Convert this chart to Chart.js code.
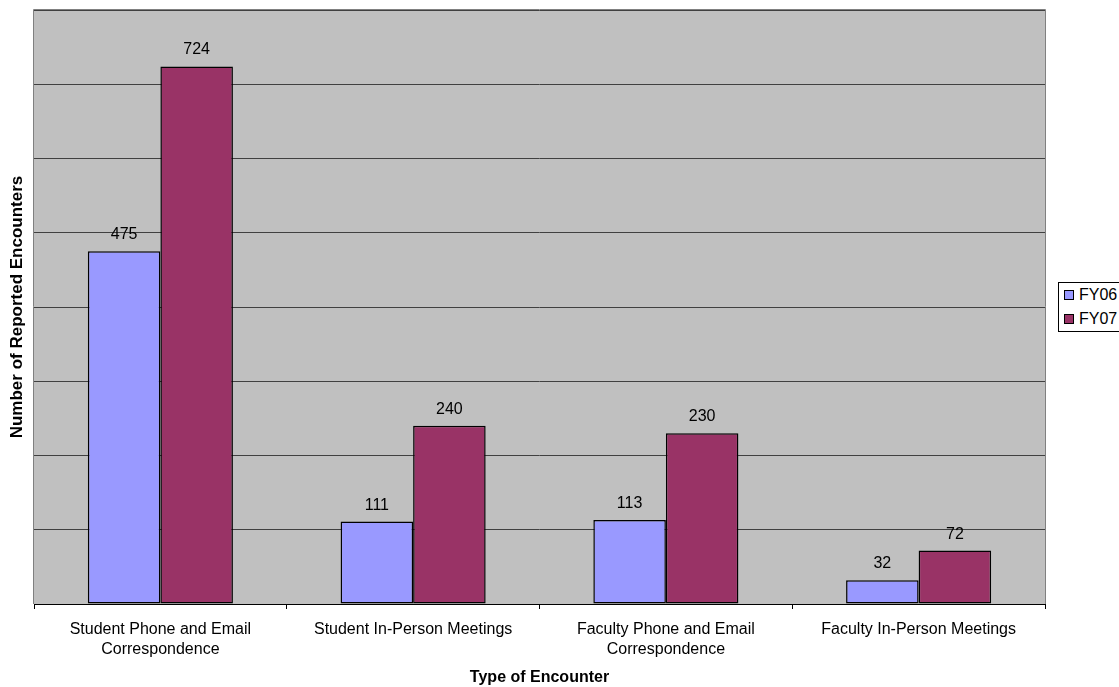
<!DOCTYPE html>
<html>
<head>
<meta charset="utf-8">
<script src="https://cdn.jsdelivr.net/npm/chart.js@4/dist/chart.umd.min.js"></script>
<style>
  body { margin: 0; overflow: hidden; background: #fff; font-family: 'Liberation Sans', Arial, sans-serif; }
  #wrap { position: relative; width: 1119px; height: 687px; }
  #legenda {
    position: absolute; left: 1058px; top: 282px; width: 80px; height: 50px;
    box-sizing: border-box; border: 1px solid #000; background: #fff;
    font-size: 16px; color: #000;
  }
  .item { position: absolute; left: 5px; height: 20px; line-height: 20px; white-space: nowrap; }
  .item span { display: inline-block; width: 8px; height: 8px; border: 1px solid #000; margin-right: 5px; vertical-align: 0px; }
</style>
</head>
<body>
<div id="wrap">
  <canvas id="grafico"></canvas>
  <div id="legenda">
    <div class="item" style="top:2px"><span style="background:#9999FF"></span>FY06</div>
    <div class="item" style="top:26px"><span style="background:#993366"></span>FY07</div>
  </div>
</div>
<script>
const categorias = [
  ['Student Phone and Email', 'Correspondence'],
  'Student In-Person Meetings',
  ['Faculty Phone and Email', 'Correspondence'],
  'Faculty In-Person Meetings'
];
const valoresFY06 = [475, 111, 113, 32];
const valoresFY07 = [724, 240, 230, 72];
const fonte = "'Liberation Sans', Arial, sans-serif";

// fundo cinza da area do grafico + borda
const fundoPlot = {
  id: 'fundoPlot',
  beforeDraw(chart) {
    const { ctx, chartArea: a } = chart;
    ctx.save();
    ctx.fillStyle = '#C0C0C0';
    ctx.fillRect(a.left, a.top, a.right - a.left, a.bottom - a.top);
    ctx.restore();
  },
  beforeDatasetsDraw(chart) {
    const { ctx, chartArea: a } = chart;
    ctx.save();
    ctx.strokeStyle = '#808080';
    ctx.lineWidth = 1;
    ctx.beginPath();
    ctx.moveTo(Math.round(a.left) - 0.5, a.bottom);
    ctx.lineTo(Math.round(a.left) - 0.5, Math.round(a.top) - 0.5);
    ctx.lineTo(Math.round(a.right) + 0.5, Math.round(a.top) - 0.5);
    ctx.lineTo(Math.round(a.right) + 0.5, a.bottom);
    ctx.stroke();
    ctx.restore();
  }
};

// numeros em cima das barras
const rotulos = {
  id: 'rotulos',
  afterDatasetsDraw(chart) {
    const ctx = chart.ctx;
    ctx.save();
    ctx.font = '16px ' + fonte;
    ctx.fillStyle = '#000';
    ctx.textAlign = 'center';
    ctx.textBaseline = 'alphabetic';
    chart.data.datasets.forEach((ds, i) => {
      chart.getDatasetMeta(i).data.forEach((barra, j) => {
        ctx.fillText(ds.data[j], barra.x, barra.y - 12);
      });
    });
    ctx.restore();
  }
};

new Chart(document.getElementById('grafico'), {
  type: 'bar',
  data: {
    labels: categorias,
    datasets: [{
      label: 'FY06',
      data: valoresFY06,
      backgroundColor: '#9999FF',
      borderColor: '#000',
      borderWidth: 1.5,
      borderSkipped: false
    }, {
      label: 'FY07',
      data: valoresFY07,
      backgroundColor: '#993366',
      borderColor: '#000',
      borderWidth: 1.5,
      borderSkipped: false
    }]
  },
  options: {
    responsive: true,
    maintainAspectRatio: false,
    animation: false,
    barPercentage: 1,
    categoryPercentage: 0.574,
    layout: { padding: { left: 0, top: 10, right: 74, bottom: 0 } },
    plugins: {
      legend: { display: false },
      tooltip: { enabled: false }
    },
    scales: {
      x: {
        afterFit(scale) { scale.height = 83; },
        grid: { offset: true, drawOnChartArea: false, tickLength: 5, color: '#000' },
        border: { color: '#000' },
        ticks: { color: '#000', padding: 11, maxRotation: 0, font: { family: fonte, size: 16, lineHeight: 1.25 } },
        title: {
          display: true, text: 'Type of Encounter', color: '#000',
          padding: { top: 0, bottom: 0 },
          font: { family: fonte, size: 16, weight: 'bold' }
        }
      },
      y: {
        min: 0,
        max: 800,
        afterFit(scale) { scale.width = 34; },
        ticks: { display: false, stepSize: 100 },
        grid: { drawTicks: false, color: '#404040' },
        border: { display: false },
        title: {
          display: true, text: 'Number of Reported Encounters', color: '#000',
          padding: { top: 7, bottom: 0 },
          font: { family: fonte, size: 17, weight: 'bold' }
        }
      }
    }
  },
  plugins: [fundoPlot, rotulos]
});
</script>
</body>
</html>
